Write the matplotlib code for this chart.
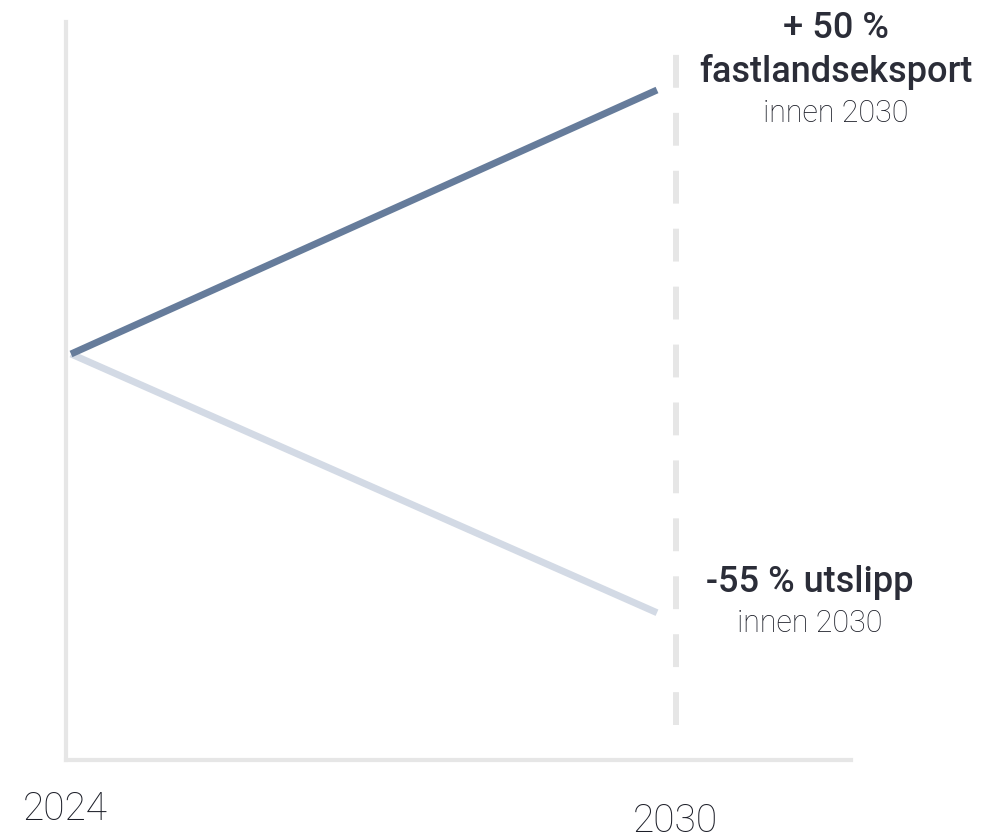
import matplotlib
matplotlib.use("Agg")
import matplotlib.pyplot as plt
import matplotlib.transforms as mtransforms

years = [2024, 2030]
export_index = [100, 150]
emission_index = [100, 51]
tick_labels = ["2024", "2030"]
export_label = ["+ 50 %", "fastlandseksport", "innen 2030"]
emission_label = ["-55 % utslipp", "innen 2030"]

DARK = "#667c9b"
LIGHT = "#d3dae5"
GRID = "#e6e6e6"
TEXT = "#2b2d38"
TEXT_LIGHT = "#1c1e28"

fig = plt.figure(figsize=(9.86, 8.39), dpi=100)
W, H = 986, 839
ax = fig.add_axes([66 / W, 1 - 760 / H, (851 - 66) / W, (760 - 22) / H])

ax.plot(years, export_index, color=DARK, lw=5.0, solid_capstyle="butt", zorder=3)
ax.plot(years, emission_index, color=LIGHT, lw=5.0, solid_capstyle="butt", zorder=2)

# x mapping: 2024 -> px 71, 2030 -> px 657
px_per_year = (657 - 71) / 6
ax.set_xlim(2024 - (71 - 66) / px_per_year, 2024 + (851 - 71) / px_per_year)
px_per_unit = (354 - 90) / 50
ax.set_ylim(100 - (760 - 354) / px_per_unit, 100 + (354 - 22) / px_per_unit)

# dashed target marker
offset = mtransforms.ScaledTranslation(19 / 100, 0, fig.dpi_scale_trans)
ax.plot([years[1], years[1]], [100 - (725 - 354) / px_per_unit, 100 + (354 - 30) / px_per_unit],
        color=GRID, lw=4.3, dashes=(5.5, 4.2), transform=ax.transData + offset, zorder=1)

for s in ["top", "right"]:
    ax.spines[s].set_visible(False)
for s in ["left", "bottom"]:
    ax.spines[s].set_color(GRID)
    ax.spines[s].set_linewidth(3)
ax.set_yticks([])
ax.set_xticks([])

fam = ["Roboto", "DejaVu Sans"]
LW = "light"
fig.text(65 / W, 1 - 809 / H, tick_labels[0], ha="center", va="center", fontsize=28,
         color=TEXT_LIGHT, family=fam, fontweight=LW)
fig.text(675 / W, 1 - 821 / H, tick_labels[1], ha="center", va="center", fontsize=28,
         color=TEXT_LIGHT, family=fam, fontweight=LW)

fig.text(836 / W, 1 - 28 / H, export_label[0], ha="center", va="center", fontsize=26,
         color=TEXT, family=fam, fontweight="medium")
fig.text(836 / W, 1 - 72 / H, export_label[1], ha="center", va="center", fontsize=26,
         color=TEXT, family=fam, fontweight="medium")
fig.text(836 / W, 1 - 113 / H, export_label[2], ha="center", va="center", fontsize=22,
         color=TEXT_LIGHT, family=fam, fontweight=LW)

fig.text(810 / W, 1 - 583 / H, emission_label[0], ha="center", va="center", fontsize=26,
         color=TEXT, family=fam, fontweight="medium")
fig.text(810 / W, 1 - 623 / H, emission_label[1], ha="center", va="center", fontsize=22,
         color=TEXT_LIGHT, family=fam, fontweight=LW)

fig.savefig("out.png", dpi=100)
